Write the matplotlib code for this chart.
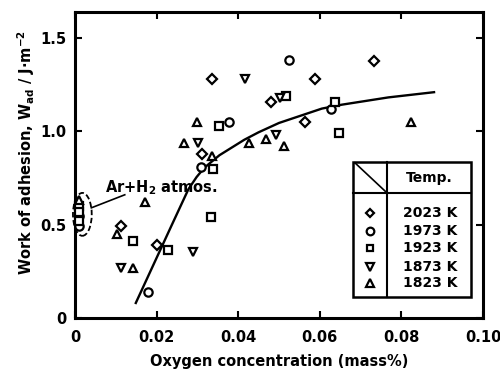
import matplotlib
matplotlib.use('Agg')
import matplotlib.pyplot as plt
from matplotlib.patches import Ellipse, Rectangle

# 2023 K (diamond)
x_2023 = [0.0337, 0.0734, 0.0588, 0.0480, 0.0563, 0.0312, 0.0112, 0.0202]
y_2023 = [1.28, 1.376, 1.28, 1.16, 1.05, 0.88, 0.49, 0.39]
# 1973 K (circle)
x_1973 = [0.0524, 0.0378, 0.0310, 0.0627, 0.0178, 0.001, 0.001]
y_1973 = [1.38, 1.05, 0.81, 1.12, 0.14, 0.545, 0.49]
# 1923 K (square)
x_1923 = [0.0354, 0.0637, 0.0646, 0.0334, 0.0141, 0.0229, 0.0339, 0.0517, 0.001, 0.001, 0.001]
y_1923 = [1.03, 1.155, 0.99, 0.54, 0.41, 0.365, 0.80, 1.19, 0.60, 0.57, 0.52]
# 1873 K (down triangle)
x_1873 = [0.0417, 0.0302, 0.0493, 0.0502, 0.0112, 0.0290]
y_1873 = [1.28, 0.94, 0.98, 1.18, 0.27, 0.355]
# 1823 K (up triangle)
x_1823 = [0.0300, 0.0268, 0.0337, 0.0427, 0.0468, 0.0512, 0.0824, 0.0171, 0.0102, 0.0141, 0.001]
y_1823 = [1.05, 0.94, 0.87, 0.94, 0.96, 0.92, 1.05, 0.62, 0.45, 0.27, 0.63]

# trend curve
curve_x = [0.0149, 0.0195, 0.0237, 0.0278, 0.0298, 0.0317, 0.0354,
           0.0415, 0.0450, 0.0500, 0.0605, 0.0654, 0.0768, 0.0880]
curve_y = [0.080, 0.298, 0.497, 0.690, 0.755, 0.805, 0.872,
           0.955, 0.995, 1.045, 1.122, 1.143, 1.182, 1.210]

temps = ['2023 K', '1973 K', '1923 K', '1873 K', '1823 K']
marks = ['D', 'o', 's', 'v', '^']
sizes = [5, 6, 5.5, 6, 6]

plt.rcParams['font.family'] = 'DejaVu Sans'
plt.rcParams['font.weight'] = 'bold'

fig = plt.figure(figsize=(5, 3.74), dpi=100)
ax = fig.add_axes([0.15, 0.150, 0.816, 0.818])

ax.plot(curve_x, curve_y, color='black', lw=1.7, zorder=2, solid_joinstyle='round')

series = [(x_2023, y_2023), (x_1973, y_1973), (x_1923, y_1923), (x_1873, y_1873), (x_1823, y_1823)]
for (xs, ys), m, s in zip(series, marks, sizes):
    ax.plot(xs, ys, linestyle='none', marker=m, ms=s, mfc='white', mec='black',
            mew=1.6, zorder=3, clip_on=False)

# Ar + H2 cluster
ax.add_patch(Ellipse((0.0018, 0.555), 0.0046, 0.23, fill=False, ls=(0, (3, 1.5)),
                     lw=1.3, color='black', clip_on=False, zorder=4))
ax.plot([0.0040, 0.0122], [0.59, 0.66], color='black', lw=1.2)
ax.text(0.0073, 0.70, 'Ar+H$_\\mathbf{2}$ atmos.', fontsize=10.5, fontweight='bold',
        va='center', ha='left')

ax.set_xlim(0, 0.10)
ax.set_ylim(0, 1.64)
ax.set_xticks([0, 0.02, 0.04, 0.06, 0.08, 0.10])
ax.set_xticklabels(['0', '0.02', '0.04', '0.06', '0.08', '0.10'])
ax.set_yticks([0, 0.5, 1.0, 1.5])
ax.set_yticklabels(['0', '0.5', '1.0', '1.5'])
ax.tick_params(direction='in', length=5, width=1.5, top=True, right=True,
               labelsize=10.5)
ax.tick_params(axis='x', pad=9)
ax.tick_params(axis='y', pad=6)
for sp in ax.spines.values():
    sp.set_linewidth(2.2)

ax.set_xlabel('Oxygen concentration (mass%)', fontsize=10.5, fontweight='bold', labelpad=6)
ax.set_ylabel('Work of adhesion, $\\mathbf{W_{ad}}$ / J$\\cdot$m$^{\\mathbf{-2}}$',
              fontsize=10.5, fontweight='bold')
ax.yaxis.set_label_coords(-0.092, 0.54)

# legend table
tr = ax.transAxes
ax.add_patch(Rectangle((0.681, 0.069), 0.29, 0.441, transform=tr, fill=True,
                       facecolor='white', edgecolor='black', lw=1.8, zorder=5))
ax.plot([0.765, 0.765], [0.069, 0.510], transform=tr, color='black', lw=1.5, zorder=6)
ax.plot([0.681, 0.971], [0.408, 0.408], transform=tr, color='black', lw=1.5, zorder=6)
ax.plot([0.686, 0.762], [0.507, 0.412], transform=tr, color='black', lw=1.2, zorder=6)
ax.text(0.868, 0.458, 'Temp.', transform=tr, ha='center', va='center',
        fontsize=10, fontweight='bold', zorder=7)
row_y = [0.343, 0.284, 0.229, 0.167, 0.114]
for t, m, s, ry in zip(temps, marks, sizes, row_y):
    ax.plot([0.723], [ry], transform=tr, marker=m, ms=s - 0.5, mfc='white', mec='black',
            mew=1.6, linestyle='none', zorder=7)
    ax.text(0.870, ry, t, transform=tr, ha='center', va='center', fontsize=10,
            fontweight='bold', zorder=7)

fig.savefig('out.png', dpi=100)
